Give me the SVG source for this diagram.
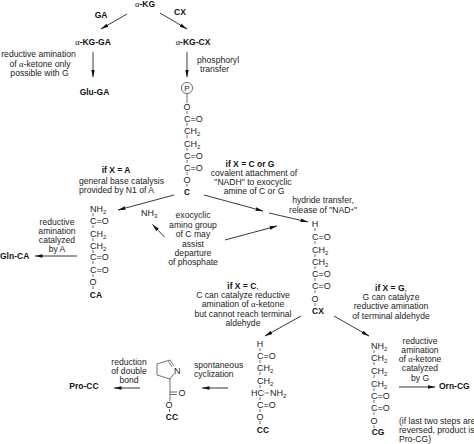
<svg xmlns="http://www.w3.org/2000/svg" width="474" height="444" viewBox="0 0 474 444">
<defs><marker id="a" markerWidth="8" markerHeight="5" refX="7.500" refY="2.500" orient="auto" markerUnits="userSpaceOnUse"><path d="M0,0.700L8,2.500L0,4.300z" fill="#111"/></marker></defs>
<style>
text{font-family:"Liberation Sans",Arial,sans-serif;font-size:8.6px;fill:#222}
.b{font-weight:700;fill:#111;font-size:8.500px}
.m{text-anchor:middle}
.s{font-family:"Liberation Serif",serif;font-weight:400}
.c{font-size:9px}
.u{font-size:6px}
#connectors line{stroke:#222;stroke-width:.9;marker-end:url(#a)}
.bond{stroke:#333;stroke-width:.7;fill:none}
</style>
<rect width="474" height="444" fill="#fff"/>
<g id="connectors">
<line x1="127" y1="14" x2="101" y2="29"/>
<line x1="160" y1="13" x2="187" y2="29"/>
<line x1="93" y1="52" x2="93" y2="77"/>
<line x1="187" y1="52" x2="187" y2="77"/>
<line x1="174" y1="195" x2="118" y2="210"/>
<line x1="204" y1="195" x2="263" y2="211"/>
<line x1="269" y1="213" x2="308" y2="222"/>
<line x1="164.500" y1="237" x2="152.500" y2="224.500"/>
<line x1="225" y1="240" x2="277" y2="226"/>
<line x1="77" y1="256" x2="35" y2="256"/>
<line x1="301" y1="316" x2="265" y2="336"/>
<line x1="334" y1="316" x2="369" y2="336"/>
<line x1="399" y1="387" x2="435" y2="387"/>
<line x1="228" y1="388" x2="202" y2="388"/>
<line x1="140" y1="388" x2="114" y2="388"/>
</g>
<g id="alpha-KG"><text class="b m" x="145" y="7"><tspan class="s">α</tspan>-KG</text></g>
<g id="GA"><text class="b m" x="101" y="17.500">GA</text></g>
<g id="CX"><text class="b m" x="180" y="15">CX</text></g>
<g id="alpha-KG-GA"><text class="b m" x="93" y="45"><tspan class="s">α</tspan>-KG-GA</text></g>
<g id="alpha-KG-CX"><text class="b m" x="193" y="45"><tspan class="s">α</tspan>-KG-CX</text></g>
<g id="note-ga"><text class="m" x="38.500" y="57">reductive amination</text><text class="m" x="40" y="67">of <tspan class="s">α</tspan>-ketone only</text><text class="m" x="39.500" y="76">possible with G</text></g>
<g id="Glu-GA"><text class="b m" x="94.500" y="95">Glu-GA</text></g>
<g id="note-phos"><text x="197" y="63">phosphoryl</text><text x="200" y="72">transfer</text></g>
<g id="chain-C">
<circle class="bond" cx="187" cy="88" r="5.600"/><text class="m" x="187" y="91" style="font-size:8px">P</text>
<path class="bond" d="M187,93.500V103M187,111V114M187,123V126M187,135V138M187,148V151M187,160V163M187,172V175M187,184V187"/>
<text class="c m" x="187" y="110">O</text>
<text class="c" x="184" y="122">C=O</text>
<text class="c" x="184" y="134">CH<tspan class="u" dy="2">2</tspan></text>
<text class="c" x="184" y="147">CH<tspan class="u" dy="2">2</tspan></text>
<text class="c" x="184" y="159">C=O</text>
<text class="c" x="184" y="171">C=O</text>
<text class="c m" x="187" y="183">O</text>
<text class="b m" x="187" y="195">C</text>
</g>
<g id="note-A"><text class="b m" x="116" y="173">if X = A</text><text x="79" y="184">general base catalysis</text><text x="79" y="193">provided by N1 of A</text></g>
<g id="note-CG"><text class="b m" x="250" y="167">if X = C or G</text><text class="m" x="254" y="176">covalent attachment of</text><text class="m" x="253" y="185">"NADH" to exocyclic</text><text class="m" x="254" y="194">amine of C or G</text></g>
<g id="note-hydride"><text class="m" x="323" y="203">hydride transfer,</text><text class="m" x="323" y="213">release of "NAD<tspan class="u" dy="-2">+</tspan><tspan dy="2">"</tspan></text></g>
<g id="NH3"><text class="c" x="141" y="216">NH<tspan class="u" dy="2">3</tspan></text></g>
<g id="note-exo"><text class="m" x="193" y="218">exocyclic</text><text class="m" x="193" y="228">amino group</text><text class="m" x="193" y="237">of C may</text><text class="m" x="193" y="247">assist</text><text class="m" x="193" y="256">departure</text><text class="m" x="193" y="265">of phosphate</text></g>
<g id="chain-CA">
<path class="bond" d="M93,213V216M93,225V228M93,238V241M93,250V253M93,261V264M93,274V277M93,286V289"/>
<text class="c" x="90" y="212">NH<tspan class="u" dy="2">2</tspan></text>
<text class="c" x="90" y="224">C=O</text>
<text class="c" x="90" y="237">CH<tspan class="u" dy="2">2</tspan></text>
<text class="c" x="90" y="249">CH<tspan class="u" dy="2">2</tspan></text>
<text class="c" x="90" y="260">C=O</text>
<text class="c" x="90" y="273">C=O</text>
<text class="c m" x="93" y="285">O</text>
<text class="b m" x="96" y="298">CA</text>
</g>
<g id="note-CA"><text class="m" x="57" y="225">reductive</text><text class="m" x="57" y="234">amination</text><text class="m" x="57" y="243">catalyzed</text><text class="m" x="57" y="252">by A</text></g>
<g id="Gln-CA"><text class="b" x="0" y="259">Gln-CA</text></g>
<g id="chain-CX">
<path class="bond" d="M315,228V231M315,241V244M315,254V257M315,266V269M315,278V281M315,290V293M315,303V306"/>
<text class="c m" x="315" y="227">H</text>
<text class="c" x="312" y="240">C=O</text>
<text class="c" x="312" y="253">CH<tspan class="u" dy="2">2</tspan></text>
<text class="c" x="312" y="265">CH<tspan class="u" dy="2">2</tspan></text>
<text class="c" x="312" y="277">C=O</text>
<text class="c" x="312" y="289">C=O</text>
<text class="c m" x="315" y="302">O</text>
<text class="b m" x="318" y="314">CX</text>
</g>
<g id="note-C"><text class="m" x="243" y="289"><tspan class="b">if X = C</tspan>,</text><text class="m" x="243" y="298">C can catalyze reductive</text><text class="m" x="243" y="307">amination of <tspan class="s">α</tspan>-ketone</text><text class="m" x="243" y="316.500">but cannot reach terminal</text><text class="m" x="243" y="326">aldehyde</text></g>
<g id="note-G"><text class="m" x="391" y="291"><tspan class="b">if X = G</tspan>,</text><text class="m" x="391" y="300">G can catalyze</text><text class="m" x="391" y="309">reductive amination</text><text class="m" x="391" y="319">of terminal aldehyde</text></g>
<g id="chain-CC">
<path class="bond" d="M260,348V351M260,360V363M260,372V375M260,385V388M260,397V400M260,409V412M260,421V424"/>
<text class="c m" x="260" y="347">H</text>
<text class="c" x="257" y="359">C=O</text>
<text class="c" x="257" y="371">CH<tspan class="u" dy="2">2</tspan></text>
<text class="c" x="257" y="384">CH<tspan class="u" dy="2">2</tspan></text>
<text class="c" x="251" y="396">HC</text><path class="bond" d="M264.500,393H269"/><text class="c" x="270" y="396">NH<tspan class="u" dy="2">2</tspan></text>
<text class="c" x="257" y="408">C=O</text>
<text class="c m" x="260" y="420">O</text>
<text class="b m" x="263" y="433">CC</text>
</g>
<g id="chain-CG">
<path class="bond" d="M374,350V353M374,362V365M374,375V378M374,388V391M374,400V403M374,412V415M374,425V428"/>
<text class="c" x="371" y="349">NH<tspan class="u" dy="2">2</tspan></text>
<text class="c" x="371" y="361">CH<tspan class="u" dy="2">2</tspan></text>
<text class="c" x="371" y="374">CH<tspan class="u" dy="2">2</tspan></text>
<text class="c" x="371" y="387">CH<tspan class="u" dy="2">2</tspan></text>
<text class="c" x="371" y="399">C=O</text>
<text class="c" x="371" y="411">C=O</text>
<text class="c m" x="374" y="424">O</text>
<text class="b m" x="378" y="435">CG</text>
</g>
<g id="note-Orn"><text class="m" x="420" y="344">reductive</text><text class="m" x="420" y="353">amination</text><text class="m" x="420" y="362">of <tspan class="s">α</tspan>-ketone</text><text class="m" x="420" y="371">catalyzed</text><text class="m" x="420" y="380.500">by G</text></g>
<g id="Orn-CG"><text class="b" x="439" y="389">Orn-CG</text></g>
<g id="note-rev"><text x="399" y="424">(if last two steps are</text><text x="399" y="433">reversed, product is</text><text x="399" y="442">Pro-CG)</text></g>
<g id="note-spont"><text x="194" y="368">spontaneous</text><text x="194" y="377">cyclization</text></g>
<g id="ring-CC">
<path class="bond" d="M157,364L170,360L174,366M168.500,361.500L172,367M157,364V375L170,379L174,373.500M170,379V399M170,392H177M170,394.500H177M170,399L169.500,401"/>
<text class="c" x="174" y="374">N</text>
<text class="c m" x="182" y="396">O</text>
<text class="c m" x="169" y="408">O</text>
<path class="bond" d="M169.500,409V412"/>
<text class="b m" x="172" y="420">CC</text>
</g>
<g id="note-red"><text class="m" x="129" y="365">reduction</text><text class="m" x="129" y="374">of double</text><text class="m" x="129" y="383">bond</text></g>
<g id="Pro-CC"><text class="b m" x="84" y="389">Pro-CC</text></g>
</svg>
